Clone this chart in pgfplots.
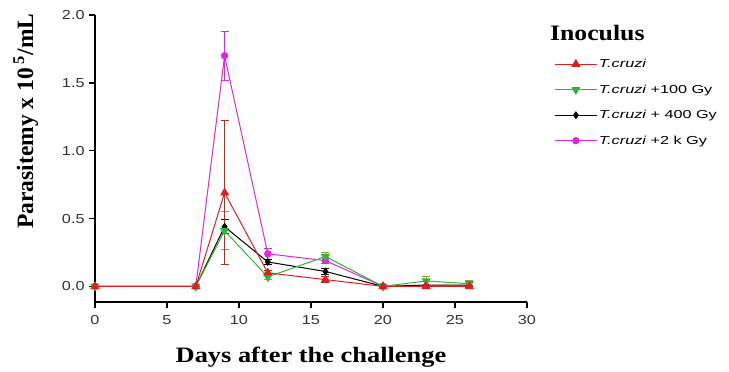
\documentclass[border=0pt]{standalone}
\usepackage{fontspec}
\setmainfont{Liberation Serif}
\newfontfamily\arial{Liberation Sans}
\usepackage{pgfplots}
\pgfplotsset{compat=1.18}
\usepackage{pgfplotstable}
\definecolor{cred}{RGB}{225,30,30}
\definecolor{cgreen}{RGB}{50,180,50}
\definecolor{cmag}{RGB}{220,40,220}
\definecolor{ered}{RGB}{170,50,40}
\definecolor{egreen}{RGB}{160,150,60}
\pgfplotstableread{
x y e
0 0 0
7 0 0
9 0.69 0.53
12 0.10 0.02
16 0.05 0.02
20 0 0.01
23 0 0.01
26 0 0.01
}\tabRed
\pgfplotstableread{
x y e
0 0 0
7 0 0
9 0.41 0.14
12 0.07 0.02
16 0.22 0.03
20 0 0
23 0.04 0.03
26 0.02 0.02
}\tabGreen
\pgfplotstableread{
x y e
0 0 0
7 0 0
9 0.44 0.05
12 0.18 0.02
16 0.11 0.02
20 0 0
23 0.01 0
26 0.01 0
}\tabBlack
\pgfplotstableread{
x y e
0 0 0
7 0 0
9 1.70 0.18
12 0.24 0.04
16 0.19 0.02
20 0 0
}\tabMag
\begin{document}
\begin{tikzpicture}
\useasboundingbox (-95pt,-70pt) rectangle (634pt,302pt);
\begin{axis}[
  at={(0,0)}, anchor=south west,
  scale only axis, width=432pt, height=287pt,
  xmin=0, xmax=30, ymin=-0.115, ymax=2.0,
  axis lines=left, axis line style={-, line width=1.6pt},
  tick align=outside, major tick length=6pt,
  tick style={line width=1.4pt, black},
  xtick={0,5,...,30}, ytick={0,0.5,1,1.5,2},
  minor tick num=0,
  /pgf/number format/assume math mode=true,
  yticklabel style={/pgf/number format/fixed, /pgf/number format/fixed zerofill, /pgf/number format/precision=1},
  ticklabel style={font=\arial\fontsize{13}{13}\selectfont, xscale=1.25, text=black!80},
  xticklabel style={yshift=-4pt},
  xlabel={Days after the challenge},
  xlabel style={at={(axis description cs:0.5,-0.2125)}, anchor=base, font=\bfseries\fontsize{22}{22}\selectfont, xscale=1.2},
  ylabel={Parasitemy x 10\,\textsuperscript{5}/mL},
  ylabel style={at={(axis description cs:-0.16,0.63)}, anchor=center, font=\bfseries\fontsize{23.5}{23.5}\selectfont},
  clip=false,
  reverse legend,
  legend cell align=left,
  legend style={at={(axis description cs:1.056,0.857)}, anchor=north west, draw=none, fill=none,
    font=\arial\itshape\fontsize{11.6}{12.5}\selectfont, row sep=13.6pt,
    nodes={inner sep=1pt, xscale=1.4}},
  legend image code/.code={\draw[mark repeat=2,mark phase=2,#1] plot coordinates {(0pt,0pt)(21pt,0pt)(42pt,0pt)};},
  error bars/y dir=both, error bars/y explicit,
  error bars/error mark options={rotate=90, mark size=4pt, line width=1pt},
  error bars/error bar style={line width=1pt},
]
\addplot[cmag, line width=1pt, mark=*, mark size=3.2pt, error bars/error bar style={cmag, line width=1pt}, error bars/error mark options={rotate=90, mark size=4pt, line width=1pt, cmag}] table[x=x,y=y,y error=e]{\tabMag};
\addlegendentry{\textit{T.cruzi} \upshape +2 k Gy}
\addplot[black, line width=1pt, mark=diamond*, mark size=3.2pt, error bars/error bar style={black, line width=1pt}, error bars/error mark options={rotate=90, mark size=4pt, line width=1pt, black}] table[x=x,y=y,y error=e]{\tabBlack};
\addlegendentry{\textit{T.cruzi} \upshape + 400 Gy}
\addplot[cgreen, line width=1pt, mark=triangle*, mark options={rotate=180}, mark size=4.3pt, error bars/error bar style={egreen, line width=1pt}, error bars/error mark options={rotate=90, mark size=4pt, line width=1pt, egreen}] table[x=x,y=y,y error=e]{\tabGreen};
\addlegendentry{\textit{T.cruzi} \upshape +100 Gy}
\addplot[cred, line width=1pt, mark=triangle*, mark size=4.3pt, error bars/error bar style={ered, line width=1pt}, error bars/error mark options={rotate=90, mark size=4pt, line width=1pt, ered}] table[x=x,y=y,y error=e]{\tabRed};
\addlegendentry{\textit{T.cruzi}}
\node[anchor=base west, font=\bfseries\fontsize{22}{22}\selectfont, xscale=1.17, inner sep=0pt] at (axis description cs:1.053,0.9098) {Inoculus};
\end{axis}
\end{tikzpicture}
\end{document}
